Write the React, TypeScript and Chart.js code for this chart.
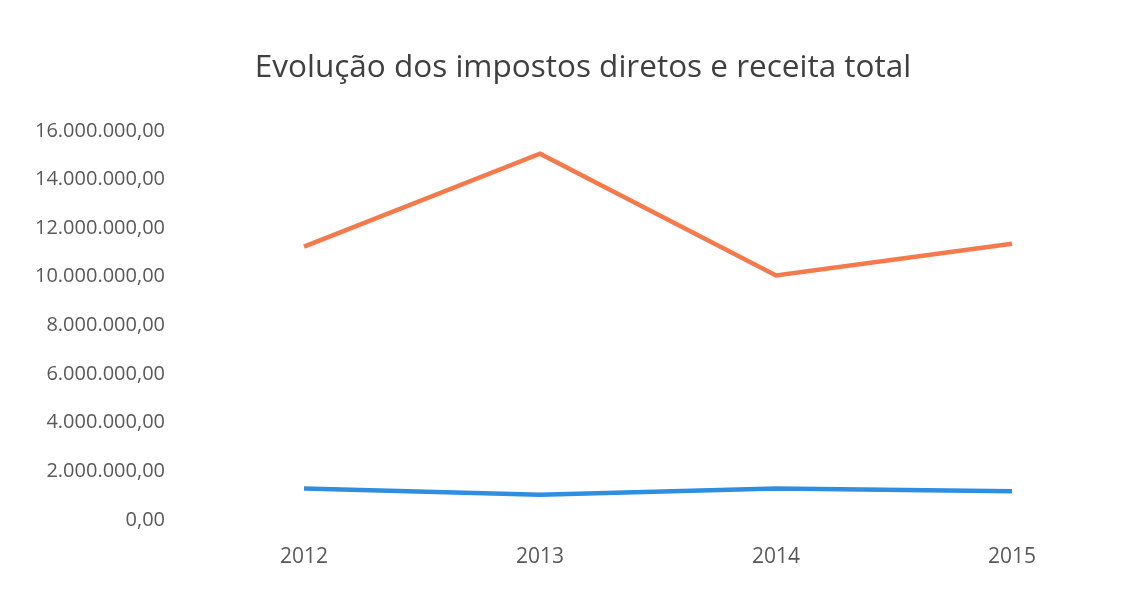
import React, { useEffect, useRef } from "react";
import { Chart, registerables } from "chart.js";

Chart.register(...registerables);

const years = ["2012", "2013", "2014", "2015"];
const receitaTotal = [11240000, 15060000, 10050000, 11360000];
const impostosDiretos = [1290000, 1040000, 1290000, 1180000];
const yTicks = [0, 2000000, 4000000, 6000000, 8000000, 10000000, 12000000, 14000000, 16000000];

function fmt(v: number): string {
  const s = Math.round(v).toString();
  const parts: string[] = [];
  for (let i = s.length; i > 0; i -= 3) parts.unshift(s.slice(Math.max(0, i - 3), i));
  return parts.join(".") + ",00";
}

const FONT = "'Open Sans', 'Liberation Sans', sans-serif";

export default function App() {
  const ref = useRef<HTMLCanvasElement | null>(null);
  useEffect(() => {
    document.body.style.margin = "0";
    if (!ref.current) return;
    const chart = new Chart(ref.current, {
      type: "line",
      data: {
        labels: years,
        datasets: [
          {
            label: "Receita total",
            data: receitaTotal,
            borderColor: "#F47A4C",
            backgroundColor: "#F47A4C",
            borderWidth: 4.5,
            pointRadius: 0,
            tension: 0,
          },
          {
            label: "Impostos diretos",
            data: impostosDiretos,
            borderColor: "#2F8EE0",
            backgroundColor: "#2F8EE0",
            borderWidth: 4.5,
            pointRadius: 0,
            tension: 0,
          },
        ],
      },
      options: {
        animation: false,
        responsive: false,
        maintainAspectRatio: false,
        layout: { padding: { left: 36, right: 11, top: 49, bottom: 10 } },
        plugins: {
          legend: { display: false },
          tooltip: { enabled: false },
          title: {
            display: true,
            text: "Evolução dos impostos diretos e receita total",
            color: "#404040",
            font: { family: FONT, size: 31.5, weight: "normal" },
            padding: { top: 0, bottom: 44 },
          },
        },
        scales: {
          x: {
            offset: true,
            grid: { display: false, drawTicks: false },
            border: { display: false },
            ticks: {
              color: "#595959",
              font: { family: FONT, size: 21 },
              padding: 24,
            },
            afterFit: (s: any) => {
              s.height = 61;
            },
          },
          y: {
            min: 0,
            max: 16000000,
            afterBuildTicks: (s: any) => {
              s.ticks = yTicks.map((v) => ({ value: v }));
            },
            grid: { display: false, drawTicks: false },
            border: { display: false },
            ticks: {
              color: "#595959",
              font: { family: FONT, size: 20 },
              padding: 21,
              callback: (v: any) => fmt(Number(v)),
            },
            afterFit: (s: any) => {
              s.width = 150;
            },
          },
        },
      },
    });
    return () => chart.destroy();
  }, []);
  return (
    <div style={{ width: 1141, height: 591, background: "#fff" }}>
      <canvas ref={ref} width={1141} height={591} style={{ display: "block" }} />
    </div>
  );
}
